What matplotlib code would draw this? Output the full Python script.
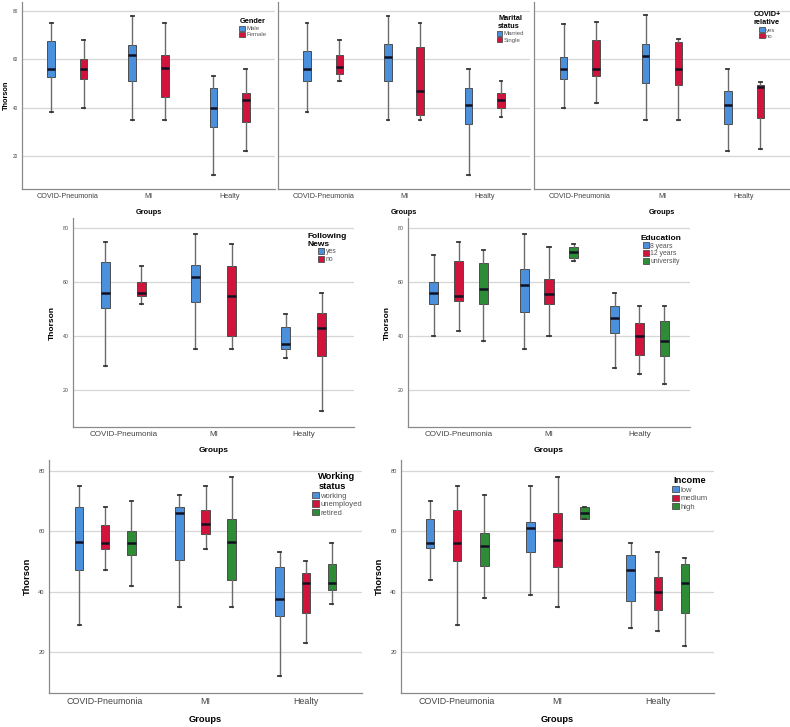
import numpy as np
import matplotlib
matplotlib.use("Agg")
import matplotlib.pyplot as plt
from matplotlib.patches import Patch

plt.rcParams['font.family'] = ['Liberation Sans', 'DejaVu Sans']

# groups on the x axis
groups = ["COVID-Pneumonia", "MI", "Healty"]
yticks = [20, 40, 60, 80]

# each row: [whisker low, Q1, median, Q3, whisker high] for COVID-Pneumonia, MI, Healty
gender_labels = ["Male", "Female"]
gender_male = [[38, 52.5, 56, 67.5, 75], [35, 51, 62, 66, 78], [12, 32, 40, 48, 53]]
gender_female = [[40, 52, 56, 60, 68], [35, 44.5, 56.5, 62, 75], [22, 34, 43, 46, 56]]

marital_labels = ["Married", "Single"]
marital_married = [[38, 51, 56, 63.5, 75], [35, 51, 61, 66.5, 78], [12, 33, 41, 48, 56]]
marital_single = [[51, 54, 57, 62, 68], [35, 37, 47, 65, 75], [36, 40, 43, 46, 51]]

relative_labels = ["yes", "no"]
relative_yes = [[40, 52, 56, 61, 74.5], [35, 50, 61.5, 66.5, 78.5], [22, 33, 41, 47, 56]]
relative_no = [[42, 53, 56, 68, 75.5], [35, 49.5, 56, 67, 68.5], [23, 35.5, 48.5, 49.5, 50.5]]

news_labels = ["yes", "no"]
news_yes = [[29, 50.5, 56, 67.5, 75], [35, 52.5, 62, 66.5, 78], [32, 35, 37, 43.5, 48]]
news_no = [[52, 55, 56, 60, 66], [35, 40, 55, 66, 74], [12, 32.5, 43, 48.5, 56]]

edu_labels = ["8 years", "12 years", "university"]
edu_8 = [[40, 52, 56, 60, 70], [35, 49, 59, 65, 78], [28, 41, 46.5, 51, 56]]
edu_12 = [[42, 53, 55, 68, 75], [40, 52, 55.5, 61, 73], [26, 33, 40, 45, 51]]
edu_uni = [[38, 52, 57.5, 67, 72], [68, 69, 71, 73, 74], [22, 32.5, 38, 45.5, 51]]

work_labels = ["working", "unemployed", "retired"]
work_working = [[29, 47, 56.5, 68, 75], [35, 50.5, 66, 68, 72], [12, 32, 37.5, 48, 53]]
work_unemployed = [[47, 54, 56, 62, 68], [54, 59, 62.5, 67, 75], [23, 33, 43, 46, 50]]
work_retired = [[42, 52, 56, 60, 70], [35, 44, 56.5, 64, 78], [36, 40.5, 43, 49, 56]]

income_labels = ["low", "medium", "high"]
income_low = [[44, 54.5, 56, 64, 70], [39, 53, 61, 63, 75], [28, 37, 47, 52, 56]]
income_medium = [[29, 50, 56, 67, 75], [35, 48, 57, 66, 78], [27, 34, 40, 45, 53]]
income_high = [[38, 48.5, 55, 59.5, 72], [64, 64, 66, 68, 68], [22, 33, 43, 49, 51]]

BLUE = '#4a90dc'
RED = '#d0143c'
GREEN = '#2e8b36'

W, H = 790, 727
fig = plt.figure(figsize=(W / 100, H / 100), dpi=100)


def px_axes(x0, x1, ytop, ybot):
    return fig.add_axes([x0 / W, 1 - ybot / H, (x1 - x0) / W, (ybot - ytop) / H])


def panel(box, series, labels, title, offsets, width, fs, tick_fs, show_y, leg_anchor, ylim,
          ylabelpad=5):
    ax = px_axes(*box)
    colors = [BLUE, RED, GREEN]
    for k, vals in enumerate(series):
        stats = [dict(whislo=v[0], q1=v[1], med=v[2], q3=v[3], whishi=v[4]) for v in vals]
        ax.bxp(stats, positions=np.arange(3) + offsets[k], widths=width,
               showfliers=False, patch_artist=True, manage_ticks=False,
               capwidths=width * 0.35,
               boxprops=dict(facecolor=colors[k], edgecolor='#4d4d4d', linewidth=0.7),
               medianprops=dict(color='#111122', linewidth=1.8),
               whiskerprops=dict(color='#6b6b6b', linewidth=1.0),
               capprops=dict(color='#333333', linewidth=1.3))
    ax.set_xlim(-0.56, 2.56)
    ax.set_ylim(*ylim)
    ax.set_yticks(yticks)
    ax.yaxis.grid(True, color='#d6d6d6', linewidth=0.9)
    ax.set_axisbelow(True)
    ax.set_xticks(range(3))
    ax.set_xticklabels(groups, fontsize=tick_fs, color='#444444')
    ax.tick_params(length=0, pad=3)
    for s in ['top', 'right']:
        ax.spines[s].set_visible(False)
    for s in ['left', 'bottom']:
        ax.spines[s].set_color('#8a8a8a')
        ax.spines[s].set_linewidth(0.9)
    if show_y:
        ax.tick_params(axis='y', labelsize=tick_fs * 0.65, labelcolor='#444444', pad=3)
        ax.set_ylabel("Thorson", fontsize=fs * 0.95, fontweight='bold', labelpad=ylabelpad)
    else:
        ax.set_yticklabels([])
    ax.set_xlabel("Groups", fontsize=fs * 0.95, fontweight='bold', labelpad=6)
    handles = [Patch(facecolor=c, edgecolor='#4d4d4d', linewidth=0.6, label=l)
               for c, l in zip(colors, labels)]
    ax.legend(handles=handles, title=title, loc='upper right', bbox_to_anchor=leg_anchor,
              frameon=False, fontsize=fs * 0.78, labelcolor='#555555',
              title_fontproperties={'weight': 'bold', 'size': fs * 0.95},
              handlelength=0.9, handleheight=0.9, handletextpad=0.2,
              labelspacing=0.1, borderpad=0, borderaxespad=0)
    return ax


ylim = (6.2, 83.8)
# row 1
panel((22, 275, 2, 189), [gender_male, gender_female], gender_labels, "Gender",
      [-0.2, 0.2], 0.095, 5.6, 5.2, True, (0.965, 0.915), ylim, ylabelpad=2)
panel((278, 530, 2, 189), [marital_married, marital_single], marital_labels, "Marital\nstatus",
      [-0.2, 0.2], 0.095, 5.6, 5.2, False, (0.975, 0.93), ylim)
panel((534, 790, 2, 189), [relative_yes, relative_no], relative_labels, "COVID+\nrelative",
      [-0.2, 0.2], 0.095, 5.6, 5.2, False, (0.965, 0.95), ylim)
# row 2
panel((73, 354, 218, 427), [news_yes, news_no], news_labels, "Following\nNews",
      [-0.2, 0.2], 0.1, 6.3, 5.8, True, (0.975, 0.93), ylim)
panel((408, 690, 218, 427), [edu_8, edu_12, edu_uni], edu_labels, "Education",
      [-0.275, 0, 0.275], 0.1, 6.3, 5.8, True, (0.97, 0.92), ylim)
# row 3
panel((49, 362, 460, 693), [work_working, work_unemployed, work_retired], work_labels,
      "Working\nstatus", [-0.26, 0, 0.26], 0.085, 7.0, 6.4, True, (1.0, 0.95), ylim)
panel((401, 714, 460, 693), [income_low, income_medium, income_high], income_labels,
      "Income", [-0.27, 0, 0.27], 0.085, 7.0, 6.4, True, (0.98, 0.93), ylim)

fig.savefig("out.png", dpi=100, facecolor='white')
